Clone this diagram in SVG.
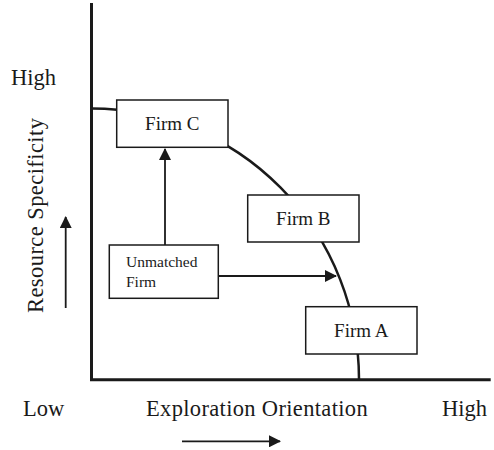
<svg xmlns="http://www.w3.org/2000/svg" width="494" height="450" viewBox="0 0 494 450">
<style>
text{font-family:"Liberation Serif","Times New Roman",serif;fill:#1a1a1a}
.lbl{font-size:22.5px}
.box{fill:#fff;stroke:#1a1a1a;stroke-width:1.5}
.axis{stroke:#1a1a1a;stroke-width:3;fill:none}
.arr{stroke:#1a1a1a;stroke-width:1.8;fill:none;marker-end:url(#ah)}
</style>
<defs>
<marker id="ah" markerUnits="userSpaceOnUse" markerWidth="12" markerHeight="12" refX="11" refY="6" orient="auto">
<path d="M0,0 L12,6 L0,12 Z" fill="#1a1a1a"/>
</marker>
</defs>
<g id="axes">
<path class="axis" d="M91.5,3 V379.8 H490.7"/>
</g>
<g id="connectors">
<path d="M92,108.5 A267,271 0 0 1 359,379" fill="none" stroke="#1a1a1a" stroke-width="2.5"/>
<path class="arr" d="M165,245 V149"/>
<path class="arr" d="M218.3,276 H336"/>
<path class="arr" d="M65.7,308 V217"/>
<path class="arr" d="M182,441.3 H280"/>
</g>
<g id="firmC">
<rect class="box" x="116.7" y="100" width="111.3" height="47.3"/>
<text x="172.3" y="129.5" font-size="19" text-anchor="middle">Firm C</text>
</g>
<g id="firmB">
<rect class="box" x="247.7" y="195" width="111.3" height="47"/>
<text x="303.3" y="224.5" font-size="19" text-anchor="middle">Firm B</text>
</g>
<g id="firmA">
<rect class="box" x="305.7" y="306.7" width="111.3" height="47.3"/>
<text x="361.3" y="336.5" font-size="19" text-anchor="middle">Firm A</text>
</g>
<g id="unmatched">
<rect class="box" x="109.3" y="245" width="109" height="53.3"/>
<text x="126" y="267.3" font-size="15.5">Unmatched</text>
<text x="126" y="287.3" font-size="15.5">Firm</text>
</g>
<g id="labels">
<text class="lbl" x="11" y="85">High</text>
<text class="lbl" x="23" y="415.5">Low</text>
<text class="lbl" x="146" y="415.5" textLength="221.7">Exploration Orientation</text>
<text class="lbl" x="442" y="415.5">High</text>
<text class="lbl" transform="translate(43,313) rotate(-90)" textLength="195">Resource Specificity</text>
</g>
</svg>
